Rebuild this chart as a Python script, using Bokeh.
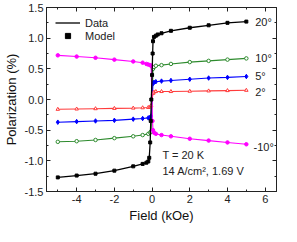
from bokeh.plotting import figure
from bokeh.models import (LinearAxis, FixedTicker, Range1d, Legend, LegendItem, Label,
                          CustomJSTickFormatter, NumeralTickFormatter)
from bokeh.embed import file_html
from bokeh.resources import INLINE

FONT = "Liberation Sans"

# ---- data (Field in kOe, Polarization in %) ----
x_black = [-5, -4, -3, -2, -1, -0.5, -0.3, -0.2, -0.15, -0.1, -0.07, -0.04, 0.0, 0.03, 0.05, 0.1, 0.2, 0.3, 0.5, 1, 2, 3, 4, 5]
y_black = [-1.27, -1.24, -1.21, -1.16, -1.09, -1.05, -1.03, -1.01, -0.95, -0.7, -0.35, 0.0, 0.4, 0.75, 0.95, 1.02, 1.04, 1.06, 1.08, 1.12, 1.17, 1.21, 1.25, 1.27]

x_green = [-5, -4, -3, -2, -1, -0.5, -0.2, -0.1, -0.05, 0.05, 0.1, 0.2, 0.5, 1, 2, 3, 4, 5]
y_green = [-0.69, -0.68, -0.66, -0.63, -0.6, -0.58, -0.56, -0.54, -0.52, 0.5, 0.53, 0.55, 0.56, 0.58, 0.61, 0.63, 0.65, 0.67]

x_blue = [-5, -4, -3, -2, -1, -0.5, -0.2, -0.1, -0.05, 0.05, 0.1, 0.2, 0.5, 1, 2, 3, 4, 5]
y_blue = [-0.37, -0.36, -0.35, -0.34, -0.32, -0.31, -0.3, -0.29, -0.27, 0.26, 0.28, 0.29, 0.3, 0.31, 0.33, 0.35, 0.36, 0.375]

x_red = [-5, -4, -3, -2, -1, -0.5, -0.2, -0.1, -0.05, 0.05, 0.1, 0.2, 0.5, 1, 2, 3, 4, 5]
y_red = [-0.16, -0.155, -0.15, -0.145, -0.14, -0.135, -0.13, -0.12, -0.1, 0.1, 0.12, 0.13, 0.13, 0.13, 0.135, 0.14, 0.145, 0.15]

x_mag = [-5, -4, -3, -2, -1, -0.5, -0.3, -0.2, -0.1, -0.05, 0.02, 0.05, 0.1, 0.2, 0.5, 1, 2, 3, 4, 5]
y_mag = [0.72, 0.7, 0.68, 0.65, 0.62, 0.6, 0.58, 0.57, 0.56, 0.55, -0.35, -0.5, -0.54, -0.56, -0.58, -0.6, -0.64, -0.67, -0.7, -0.73]

angle_labels = ["20°", "10°", "5°", "2°", "-10°"]

x_ticks = [-4, -2, 0, 2, 4, 6]
x_minor = [-5, -3, -1, 1, 3, 5]
y_ticks = [-1.5, -1.0, -0.5, 0.0, 0.5, 1.0, 1.5]
y_minor = [-1.25, -0.75, -0.25, 0.25, 0.75, 1.25]

p = figure(frame_width=230, frame_height=184, output_backend="svg", toolbar_location=None,
           x_range=Range1d(-5.6, 6.6), y_range=Range1d(-1.5, 1.5),
           min_border_left=45, min_border_right=6, min_border_top=7, min_border_bottom=30)
p.background_fill_color = "white"
p.border_fill_color = "white"
p.outline_line_color = "#222222"
p.grid.visible = False

def style_axis(ax, ticks, minor, show_labels=True):
    ax.ticker = FixedTicker(ticks=ticks, minor_ticks=minor)
    ax.major_tick_in = 4
    ax.major_tick_out = 0
    ax.minor_tick_in = 2
    ax.minor_tick_out = 0
    ax.axis_line_color = "#222222"
    ax.major_tick_line_color = "#222222"
    ax.minor_tick_line_color = "#222222"
    ax.major_label_text_font = FONT
    ax.major_label_text_font_size = "11px"
    ax.major_label_text_color = "#222222"
    ax.major_label_standoff = 3 if show_labels else 0
    ax.axis_label_text_font = FONT
    ax.axis_label_text_font_style = "normal"
    ax.axis_label_text_font_size = "13px"
    ax.axis_label_text_color = "#111111"
    if not show_labels:
        ax.major_label_text_alpha = 0

xa = p.xaxis[0]
ya = p.yaxis[0]
style_axis(xa, x_ticks, x_minor)
style_axis(ya, y_ticks, y_minor)
xa.axis_label = "Field (kOe)"
ya.axis_label = "Polarization (%)"
xa.axis_label_standoff = 2
ya.axis_label_standoff = 3
ya.formatter = NumeralTickFormatter(format="0.0")
xa.formatter = NumeralTickFormatter(format="0")

ra = LinearAxis()
style_axis(ra, y_ticks, y_minor, show_labels=False)
ra.formatter = CustomJSTickFormatter(code="return ''")
p.add_layout(ra, "right")
ta = LinearAxis()
style_axis(ta, x_ticks, x_minor, show_labels=False)
ta.formatter = CustomJSTickFormatter(code="return ''")
p.add_layout(ta, "above")

series = [
    (x_green, y_green, "#2e8b2e", "circle", "white", 3.5),
    (x_blue, y_blue, "#0000ff", "diamond", "#0000ff", 4.5),
    (x_red, y_red, "#ff3b3b", "triangle", "white", 3.5),
    (x_mag, y_mag, "#ff00ff", "circle", "#ff00ff", 3.5),
]
for xs, ys, col, mk, fill, sz in series:
    p.line(xs, ys, line_color=col, line_width=1.1)
    p.scatter(xs, ys, marker=mk, size=sz, line_color=col, fill_color=fill, line_width=1)

bl = p.line(x_black, y_black, line_color="black", line_width=1.3)
bm = p.scatter(x_black, y_black, marker="square", size=3, line_color="black", fill_color="black")

legend = Legend(items=[LegendItem(label="Data", renderers=[bl]),
                       LegendItem(label="Model", renderers=[bm])],
                location="top_left", orientation="vertical")
legend.border_line_alpha = 0
legend.background_fill_alpha = 0
legend.margin = 0
legend.padding = 9
legend.spacing = 0
legend.glyph_width = 25
legend.glyph_height = 13
legend.label_height = 13
legend.label_standoff = 5
legend.label_text_font = FONT
legend.label_text_font_size = "11px"
legend.label_text_color = "#222222"
p.add_layout(legend)

ends = [(y_black[-1], 0.0), (y_green[-1], 0.0), (y_blue[-1], 0.01), (y_red[-1], -0.035), (y_mag[-1], -0.05)]
for lab, (yv, off) in zip(angle_labels, ends):
    p.add_layout(Label(x=5.47 if not lab.startswith("-") else 5.38, y=yv + off, text=lab,
                       text_font=FONT, text_font_size="11px", text_color="#222222",
                       text_baseline="middle", text_align="left"))

p.add_layout(Label(x=0.55, y=-0.9, text="T = 20 K", text_font=FONT, text_font_size="11px",
                   text_color="#222222", text_baseline="middle"))
p.add_layout(Label(x=0.55, y=-1.16, text="14 A/cm², 1.69 V", text_font=FONT, text_font_size="11px",
                   text_color="#222222", text_baseline="middle"))

open("out.html", "w").write(file_html(p, INLINE))
